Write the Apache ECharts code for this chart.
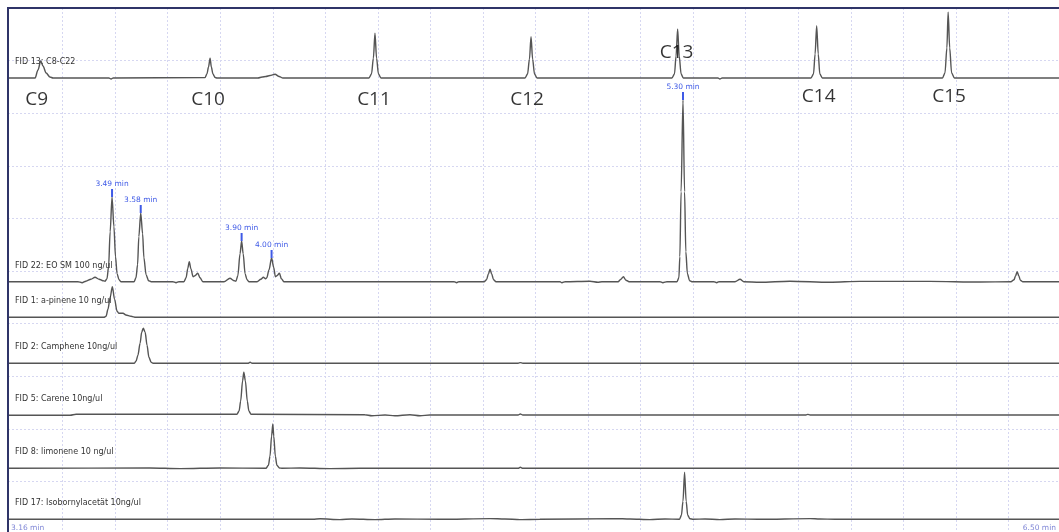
<!DOCTYPE html>
<html>
<head>
<meta charset="utf-8">
<title>FID chromatograms</title>
<style>
  body, html { margin: 0; padding: 0; background: #fff; }
</style>
</head>
<body>
<div id="container" style="width:1059px;height:532px"></div>
<script src="https://cdn.jsdelivr.net/npm/echarts@6/dist/echarts.min.js"></script>
<script>
// time window (min)
var tStart = 3.16, tEnd = 6.50;
// vertical grid every 10 s
var gridTimes = [3.3333, 3.5, 3.6667, 3.8333, 4.0, 4.1667, 4.3333, 4.5, 4.6667, 4.8333, 5.0,
  5.1667, 5.3333, 5.5, 5.6667, 5.8333, 6.0, 6.1667, 6.3333, 6.5];
var axisLabelTimes = [3.16, 6.50];

var traceNames = ['FID 13: C8-C22', 'FID 22: EO SM 100 ng/ul', 'FID 1: a-pinene 10 ng/ul',
  'FID 2: Camphene 10ng/ul', 'FID 5: Carene 10ng/ul', 'FID 8: limonene 10 ng/ul',
  'FID 17: Isobornylacetät 10ng/ul'];
// baseline level of each stacked trace
var baselines = [456, 252.3, 216.7, 170.7, 119, 65.7, 14.7];

// [time, signal above baseline]
var fid13 = [[3.160, 0], [3.246, 0], [3.255, 8], [3.264, 17], [3.271, 12], [3.281, 5], [3.293, 1], [3.303, 0],
  [3.480, 0], [3.487, -1], [3.493, 0],
  [3.785, 0.5], [3.791, 4], [3.796, 11], [3.801, 19.7], [3.805, 11], [3.810, 4], [3.817, 0.5], [3.823, 0],
  [3.953, 0], [3.966, 1], [3.978, 1.5], [3.991, 2.5], [4.007, 3.7], [4.020, 1.5], [4.032, 0],
  [4.305, 0], [4.313, 4], [4.319, 20], [4.324, 44.7], [4.329, 20], [4.335, 4], [4.343, 0],
  [4.800, 0], [4.808, 4], [4.814, 19], [4.819, 41.3], [4.824, 19], [4.830, 4], [4.838, 0],
  [5.266, 0], [5.274, 4], [5.279, 22], [5.284, 49], [5.289, 22], [5.295, 4], [5.302, 0],
  [5.412, 0], [5.418, -1], [5.425, 0],
  [5.707, 0], [5.715, 4], [5.720, 24], [5.725, 52.3], [5.730, 24], [5.735, 4], [5.743, 0],
  [6.124, 0], [6.132, 5], [6.138, 30], [6.142, 65.7], [6.147, 30], [6.153, 5], [6.162, 0],
  [6.500, 0]];

var fid22 = [[3.160, 0], [3.382, 0], [3.395, -1], [3.407, 0.5], [3.423, 2.5], [3.436, 4.4], [3.449, 2.5], [3.461, 1],
  [3.468, 0.5], [3.474, 3], [3.479, 15], [3.484, 50], [3.490, 84.7], [3.496, 55], [3.501, 25], [3.506, 8], [3.512, 2], [3.518, 0],
  [3.560, 0], [3.566, 4], [3.571, 17], [3.575, 45], [3.581, 68.7], [3.587, 48], [3.591, 24], [3.598, 7], [3.606, 1], [3.614, 0],
  [3.683, 0], [3.693, -1], [3.702, 0],
  [3.718, 0], [3.725, 4], [3.730, 13], [3.735, 20], [3.740, 13], [3.747, 5], [3.753, 6], [3.762, 8.4], [3.769, 4], [3.778, 0],
  [3.845, 0], [3.864, 3.4], [3.877, 1],
  [3.883, 0.5], [3.889, 6], [3.896, 28], [3.901, 40.7], [3.906, 28], [3.912, 8], [3.918, 2], [3.924, 0],
  [3.950, 0], [3.962, 2.5], [3.970, 4.4], [3.977, 3],
  [3.981, 4], [3.988, 12], [3.996, 23.7], [4.003, 14], [4.008, 5], [4.013, 6], [4.021, 8.4], [4.027, 3], [4.035, 0],
  [4.575, 0], [4.583, -1], [4.590, 0],
  [4.670, 0], [4.678, 2], [4.684, 8], [4.689, 12.4], [4.694, 8], [4.700, 2], [4.708, 0],
  [4.911, 0], [4.917, -1], [4.927, 0], [5.006, 0.5], [5.031, -0.5], [5.044, 0],
  [5.095, 0], [5.104, 2.5], [5.112, 5], [5.120, 1.5], [5.130, 0],
  [5.228, 0], [5.237, -1], [5.250, 0],
  [5.282, 0], [5.288, 4], [5.291, 25], [5.295, 90], [5.301, 181.7], [5.306, 90], [5.310, 30], [5.315, 8], [5.322, 1], [5.329, 0],
  [5.399, 0], [5.408, -1], [5.415, 0],
  [5.466, 0], [5.482, 2.4], [5.494, 0], [5.545, -0.5], [5.640, 0.5], [5.767, -0.5], [5.862, 0.3], [6.084, 0.3], [6.243, -0.3],
  [6.341, 0], [6.351, 2], [6.356, 6], [6.361, 10], [6.366, 6], [6.371, 1.5], [6.379, 0],
  [6.500, 0]];

var fid1 = [[3.160, 0], [3.464, 0], [3.471, 1], [3.477, 8], [3.484, 20], [3.491, 30.6], [3.498, 18], [3.506, 6],
  [3.512, 4], [3.525, 4], [3.534, 2.3], [3.550, 1], [3.566, 0], [6.500, 0]];

var fid2 = [[3.160, 0], [3.560, 0], [3.566, 2], [3.572, 8], [3.579, 20], [3.584, 31], [3.589, 35], [3.595, 31],
  [3.601, 18], [3.607, 6], [3.614, 1], [3.620, 0],
  [3.921, 0], [3.928, 1], [3.934, 0], [4.778, 0], [4.785, 0.7], [4.793, 0], [6.500, 0]];

var fid5 = [[3.160, -0.3], [3.357, -0.3], [3.376, 0.7], [3.886, 0.7], [3.893, 4], [3.898, 14], [3.904, 34], [3.908, 42.7],
  [3.913, 34], [3.919, 14], [3.924, 4], [3.931, 0.7],
  [4.292, 0.3], [4.314, -0.7], [4.356, 0], [4.387, -0.7], [4.435, 0.3], [4.467, -0.7], [4.498, 0],
  [4.778, 0], [4.785, 1], [4.793, 0], [5.691, 0], [5.697, 0.6], [5.704, 0], [6.500, 0]];

var fid8 = [[3.160, 0], [3.610, 0.3], [3.706, -0.3], [3.832, 0.3], [3.978, 0], [3.986, 3], [3.991, 12], [3.996, 32],
  [4.000, 44.3], [4.003, 32], [4.008, 12], [4.013, 3], [4.021, 0.3], [4.029, 0],
  [4.086, 0.3], [4.181, -0.3], [4.276, 0], [4.778, 0], [4.785, 1], [4.793, 0], [6.500, 0]];

var fid17 = [[3.160, 0], [4.127, 0], [4.150, 0.5], [4.213, -0.3], [4.251, 0.3], [4.324, -0.3], [4.387, 0.3], [4.530, 0],
  [4.689, 0.7], [4.736, 0.3], [4.784, -0.3], [4.847, 0],
  [5.085, 0.7], [5.133, 0.3], [5.196, -0.3], [5.244, 0.3],
  [5.290, 0], [5.296, 4], [5.301, 18], [5.306, 47], [5.311, 18], [5.316, 4], [5.323, 0.5], [5.333, 0],
  [5.371, 0.3], [5.418, -0.3], [5.466, 0.3], [5.545, 0], [5.704, 0.7], [5.735, 0.3], [5.783, 0], [6.500, 0]];

var traces = [fid13, fid22, fid1, fid2, fid5, fid8, fid17];

// n-alkane markers on the FID 13 trace
var alkaneNames = ['C9', 'C10', 'C11', 'C12', 'C13', 'C14', 'C15'];
var alkaneTimes = [3.264, 3.801, 4.324, 4.819, 5.284, 5.725, 6.142];

// retention times annotated on FID 22
var markedPeaks = [3.490, 3.581, 3.901, 3.996, 5.301];

var chart = echarts.init(document.getElementById('container'));

var blue = '#3f5ae6';
var gridLine = { show: true, lineStyle: { color: '#d6d7f1', type: [2, 2], width: 1 } };
// label placement for the alkane names (px)
var alkaneDx = [-4, -2, -1, -4, -1, 2, 1];
var alkaneDy = [21.5, 21.5, 21.5, 21.5, -25.5, 19, 19];

function apexOf(data, t) {
  for (var i = 0; i < data.length; i++) {
    if (Math.abs(data[i][0] - t) < 1e-6) return data[i][1];
  }
  return 0;
}

var series = traces.map(function (tr, i) {
  var base = baselines[i];
  var marks = [{
    coord: [tStart, base],
    symbolSize: 0,
    label: {
      show: true, position: 'right', distance: 7, offset: [0, -16],
      formatter: traceNames[i], fontSize: 8, fontFamily: 'DejaVu Sans', color: '#333'
    }
  }];
  if (i === 1) {
    markedPeaks.forEach(function (t) {
      marks.push({
        coord: [t, base + apexOf(tr, t)],
        symbol: 'rect',
        symbolSize: [2, 8],
        symbolOffset: [0, -4],
        itemStyle: { color: blue },
        label: {
          show: true, position: 'top', distance: 1,
          formatter: t.toFixed(2) + ' min', fontSize: 7.5, fontFamily: 'DejaVu Sans', color: blue
        }
      });
    });
  }
  return {
    name: traceNames[i],
    type: 'line',
    data: tr.map(function (p) { return [p[0], base + p[1]]; }),
    showSymbol: false,
    smooth: 0.3,
    smoothMonotone: 'x',
    lineStyle: { color: '#555', width: 1.4 },
    z: 3,
    markPoint: { silent: true, animation: false, symbol: 'circle', data: marks }
  };
});

series.push({
  type: 'scatter',
  silent: true,
  symbolSize: 0,
  data: alkaneNames.map(function (n, k) {
    return {
      value: [alkaneTimes[k], baselines[0]],
      label: { offset: [alkaneDx[k], alkaneDy[k]] }
    };
  }),
  label: {
    show: true, position: 'inside',
    formatter: function (p) { return alkaneNames[p.dataIndex]; },
    fontSize: 19, fontFamily: 'Open Sans', color: '#000'
  },
  z: 5
});

chart.setOption({
  animation: false,
  backgroundColor: '#fff',
  grid: {
    left: 8, right: -2, top: 8, bottom: -2,
    outerBoundsMode: 'none',
    containLabel: false,
    show: true, borderColor: '#2f3468', borderWidth: 2,
    z: 10
  },
  xAxis: {
    type: 'value',
    min: tStart,
    max: tEnd,
    axisLine: { show: false },
    axisTick: { show: false, customValues: gridTimes },
    splitLine: gridLine,
    axisLabel: {
      inside: true,
      customValues: axisLabelTimes,
      alignMinLabel: 'left',
      alignMaxLabel: 'right',
      padding: [0, 5, 0, 3],
      margin: 2,
      fontSize: 7.5,
      fontFamily: 'DejaVu Sans',
      color: '#7f86d6',
      formatter: function (v) { return v.toFixed(2) + ' min'; }
    }
  },
  yAxis: {
    type: 'value',
    min: 0,
    max: 526,
    interval: 52.6,
    axisLine: { show: false },
    axisTick: { show: false },
    axisLabel: { show: false },
    splitLine: Object.assign({ showMaxLine: false }, gridLine)
  },
  series: series
});
window.onresize = chart.resize;
</script>
</body>
</html>
